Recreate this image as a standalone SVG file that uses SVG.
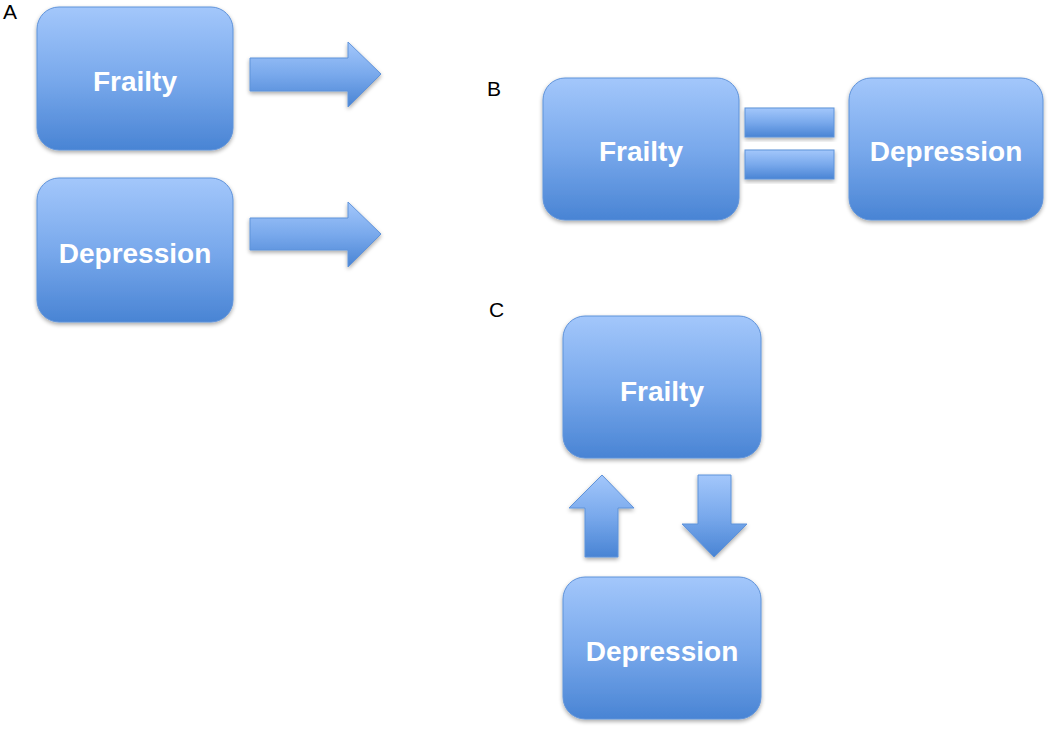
<svg xmlns="http://www.w3.org/2000/svg" width="1050" height="729" viewBox="0 0 1050 729">
  <defs>
    <linearGradient id="gv" x1="0" y1="0" x2="0" y2="1">
      <stop offset="0" stop-color="#a3c7fb"/>
      <stop offset="0.5" stop-color="#79a9ec"/>
      <stop offset="1" stop-color="#4984d4"/>
    </linearGradient>
    <filter id="sh" x="-10%" y="-10%" width="120%" height="125%">
      <feGaussianBlur in="SourceAlpha" stdDeviation="2"/>
      <feOffset dx="0" dy="2" result="b"/>
      <feComponentTransfer><feFuncA type="linear" slope="0.35"/></feComponentTransfer>
      <feMerge><feMergeNode/><feMergeNode in="SourceGraphic"/></feMerge>
    </filter>
  </defs>
  <style>
    .box { fill: url(#gv); stroke: #5f93da; stroke-width: 1; filter: url(#sh); }
    .arr { fill: url(#gv); stroke: #5f93da; stroke-width: 1; filter: url(#sh); }
    .t { font-family: "Liberation Sans", Arial, sans-serif; font-weight: bold; font-size: 28px; fill: #ffffff; text-anchor: middle; }
    .lbl { font-family: "Liberation Sans", Arial, sans-serif; font-size: 21px; fill: #000000; }
  </style>

  <text class="lbl" x="3" y="19">A</text>
  <text class="lbl" x="487" y="96">B</text>
  <text class="lbl" x="489" y="317">C</text>

  <g id="a-frailty">
    <rect class="box" x="37" y="7" width="196" height="143" rx="22"/>
    <text class="t" x="135" y="91">Frailty</text>
  </g>
  <g id="a-depression">
    <rect class="box" x="37" y="178" width="196" height="144" rx="22"/>
    <text class="t" x="135" y="263">Depression</text>
  </g>
  <g id="b-frailty">
    <rect class="box" x="543" y="78" width="196" height="142" rx="22"/>
    <text class="t" x="641" y="161">Frailty</text>
  </g>
  <g id="b-depression">
    <rect class="box" x="849" y="78" width="194" height="142" rx="22"/>
    <text class="t" x="946" y="161">Depression</text>
  </g>
  <g id="c-frailty">
    <rect class="box" x="563" y="316" width="198" height="142" rx="22"/>
    <text class="t" x="662" y="401">Frailty</text>
  </g>
  <g id="c-depression">
    <rect class="box" x="563" y="577" width="198" height="142" rx="22"/>
    <text class="t" x="662" y="661">Depression</text>
  </g>

  <g id="connectors">
    <polygon class="arr" points="250,58 348,58 348,42 381,74 348,107 348,91 250,91"/>
    <polygon class="arr" points="250,218 348,218 348,202 381,234 348,267 348,250 250,250"/>
    <rect class="arr" x="745" y="108" width="89" height="29"/>
    <rect class="arr" x="745" y="150" width="89" height="29"/>
    <polygon class="arr" points="602,475 634,508 618,508 618,557 585,557 585,508 569,508"/>
    <polygon class="arr" points="698,475 731,475 731,524 747,524 714,557 682,524 698,524"/>
  </g>
</svg>
